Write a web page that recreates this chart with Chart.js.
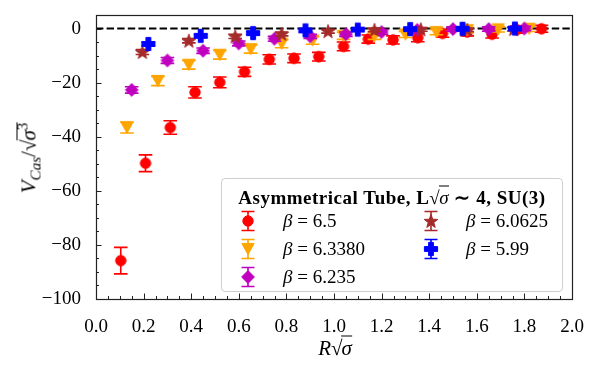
<!DOCTYPE html>
<html>
<head>
<meta charset="utf-8">
<script src="https://cdn.jsdelivr.net/npm/chart.js@4.4.1/dist/chart.umd.min.js"></script>
<style>
  html, body { margin: 0; padding: 0; background: #fff; }
  #wrap { position: relative; width: 600px; height: 370px; font-family: "Liberation Serif", serif; color: #000; }
  canvas { position: absolute; left: 0; top: 0; }
  .ol { display: inline-block; border-top: 1.3px solid #000; line-height: 1; padding-top: 1px; margin-left: -1px; }
  .abs { position: absolute; white-space: nowrap; line-height: 1; }
  #ytitle { left: 28px; top: 158px; transform: translate(-50%, -50%) rotate(-90deg); font-size: 21px; }
  #xtitle { left: 335px; top: 347px; transform: translate(-50%, -50%); font-size: 21px; }
  #legend { position: absolute; left: 221px; top: 178px; width: 342px; height: 114px; box-sizing: border-box;
            border: 1px solid #cfcfcf; border-radius: 4px; background: rgba(255,255,255,0.85); }
  #legend .ttl { position: absolute; left: 0; width: 100%; top: 17px; transform: translateY(-50%); text-align: center; font-weight: bold; font-size: 19px; letter-spacing: 0.5px; line-height: 1; white-space: nowrap; }
  #legend .ttl .ol { border-top-width: 1px; }
  #legend .txt { position: absolute; transform: translateY(-50%); font-size: 19px; white-space: nowrap; }
  #legend .ico { position: absolute; transform: translate(-50%, -50%); }
  sub, sup { font-size: 72%; line-height: 0; }
</style>
</head>
<body>
<div id="wrap">
  <canvas id="c" width="600" height="370"></canvas>
  <div id="ytitle" class="abs"><i>V</i><sub><i>Cas</i></sub>/√<span class="ol"><i>σ</i><sup>3</sup></span></div>
  <div id="xtitle" class="abs"><i>R</i>√<span class="ol"><i>σ</i></span></div>
  <div id="legend"></div>
</div>
<script>
// ---------------- data ----------------
const xTicks = [0, 0.2, 0.4, 0.6, 0.8, 1.0, 1.2, 1.4, 1.6, 1.8, 2.0];
const xTickLabels = ["0.0", "0.2", "0.4", "0.6", "0.8", "1.0", "1.2", "1.4", "1.6", "1.8", "2.0"];
const yTicks = [-100, -80, -60, -40, -20, 0];
const yTickLabels = ["\u2212100", "\u221280", "\u221260", "\u221240", "\u221220", "0"];

const legendTitle = 'Asymmetrical Tube, L√<span class="ol" style="font-weight:normal"><i>σ</i></span> ∼ 4, SU(3)';
const seriesNames = ["β = 6.5", "β = 6.3380", "β = 6.235", "β = 6.0625", "β = 5.99"];

// beta = 6.5
const r65 = [0.104, 0.208, 0.312, 0.416, 0.520, 0.624, 0.728, 0.832, 0.936, 1.040, 1.144, 1.248, 1.352, 1.456, 1.560, 1.664, 1.768, 1.872];
const v65 = [-85.8, -49.8, -36.6, -23.6, -19.9, -16.0, -11.4, -11.0, -10.4, -6.6, -3.9, -4.2, -3.4, -1.8, -1.3, -2.1, -0.4, -0.1];
const e65 = [4.9, 3.1, 2.5, 2.1, 2.0, 1.7, 1.7, 1.6, 1.6, 1.6, 1.5, 1.5, 1.5, 1.4, 1.4, 1.4, 1.3, 1.3];

// beta = 6.3380
const r6338 = [0.13, 0.26, 0.39, 0.52, 0.65, 0.78, 0.91, 1.04, 1.17, 1.30, 1.43, 1.56, 1.69, 1.82];
const v6338 = [-36.6, -19.4, -13.4, -9.7, -7.6, -5.6, -4.4, -2.7, -2.8, -2.2, -1.3, -0.6, -0.3, -0.1];
const e6338 = [2.0, 1.7, 1.6, 1.6, 1.5, 1.5, 1.4, 1.3, 1.2, 1.1, 1.0, 1.0, 1.0, 1.0];

// beta = 6.235
const r6235 = [0.15, 0.30, 0.45, 0.60, 0.75, 0.90, 1.05, 1.20, 1.35, 1.50, 1.65, 1.80];
const v6235 = [-22.7, -11.8, -8.2, -5.5, -3.8, -2.9, -2.1, -1.3, -0.5, -0.2, -0.2, 0.0];
const e6235 = [1.2, 1.1, 1.0, 0.9, 0.9, 0.8, 0.8, 0.8, 0.8, 0.8, 0.8, 0.8];

// beta = 6.0625
const r60625 = [0.195, 0.39, 0.585, 0.78, 0.975, 1.17, 1.365, 1.56, 1.755];
const v60625 = [-8.7, -4.5, -2.9, -2.0, -1.0, -0.5, -0.3, -0.5, -0.2];
const e60625 = [0.9, 0.8, 0.8, 0.7, 0.7, 0.7, 0.7, 0.7, 0.7];

// beta = 5.99
const r599 = [0.22, 0.44, 0.66, 0.88, 1.10, 1.32, 1.54, 1.76];
const v599 = [-5.7, -2.7, -1.7, -0.7, -0.4, -0.2, -0.1, 0.0];
const e599 = [0.7, 0.6, 0.6, 0.6, 0.5, 0.5, 0.5, 0.5];

// ---------------- styling ----------------
const colors = ["#ff0000", "#ffa500", "#bf00bf", "#a52a2a", "#0000ff"];
const shapes = ["circle", "triDown", "diamond", "star", "plusFilled"];

function drawShape(ctx, kind, cx, cy, color) {
  ctx.save();
  ctx.fillStyle = color;
  ctx.strokeStyle = color;
  ctx.lineWidth = 1;
  ctx.lineJoin = "miter";
  ctx.beginPath();
  if (kind === "circle") {
    ctx.arc(cx, cy, 5.2, 0, Math.PI * 2);
  } else if (kind === "triDown") {
    ctx.moveTo(cx - 6.2, cy - 5.6);
    ctx.lineTo(cx + 6.2, cy - 5.6);
    ctx.lineTo(cx, cy + 5.6);
    ctx.closePath();
  } else if (kind === "diamond") {
    const d = 6.4;
    ctx.moveTo(cx, cy - d); ctx.lineTo(cx + d, cy); ctx.lineTo(cx, cy + d); ctx.lineTo(cx - d, cy);
    ctx.closePath();
  } else if (kind === "star") {
    const ro = 7.2, ri = 2.9;
    for (let i = 0; i < 10; i++) {
      const r = i % 2 === 0 ? ro : ri;
      const a = -Math.PI / 2 + i * Math.PI / 5;
      const px = cx + r * Math.cos(a), py = cy + 0.6 + r * Math.sin(a);
      if (i === 0) ctx.moveTo(px, py); else ctx.lineTo(px, py);
    }
    ctx.closePath();
  } else if (kind === "plusFilled") {
    const L = 6.6, T = 2.4;
    ctx.moveTo(cx - T, cy - L); ctx.lineTo(cx + T, cy - L); ctx.lineTo(cx + T, cy - T);
    ctx.lineTo(cx + L, cy - T); ctx.lineTo(cx + L, cy + T); ctx.lineTo(cx + T, cy + T);
    ctx.lineTo(cx + T, cy + L); ctx.lineTo(cx - T, cy + L); ctx.lineTo(cx - T, cy + T);
    ctx.lineTo(cx - L, cy + T); ctx.lineTo(cx - L, cy - T); ctx.lineTo(cx - T, cy - T);
    ctx.closePath();
  }
  ctx.fill();
  ctx.stroke();
  ctx.restore();
}

function makeMarker(kind, color) {
  const c = document.createElement("canvas");
  c.width = 18; c.height = 18;
  drawShape(c.getContext("2d"), kind, 9, 9, color);
  return c;
}

function makeLegendIcon(kind, color) {
  const c = document.createElement("canvas");
  c.width = 18; c.height = 24;
  const g = c.getContext("2d");
  g.strokeStyle = color; g.lineWidth = 1.6;
  g.beginPath();
  g.moveTo(9, 2.5); g.lineTo(9, 21.5);
  g.moveTo(2.5, 2.5); g.lineTo(15.5, 2.5);
  g.moveTo(2.5, 21.5); g.lineTo(15.5, 21.5);
  g.stroke();
  drawShape(g, kind, 9, 12, color);
  return c;
}

const xs = [r65, r6338, r6235, r60625, r599];
const ys = [v65, v6338, v6235, v60625, v599];
const es = [e65, e6338, e6235, e60625, e599];

const datasets = xs.map((xa, k) => ({
  label: seriesNames[k],
  data: xa.map((x, i) => ({ x: x, y: ys[k][i] })),
  errors: es[k],
  color: colors[k],
  pointStyle: makeMarker(shapes[k], colors[k]),
  showLine: false,
  order: 4 - k
}));

// error bars, drawn just beneath each dataset's markers
const errorBarPlugin = {
  id: "errbars",
  beforeDatasetDraw(chart, args) {
    const ds = chart.data.datasets[args.index];
    const meta = args.meta;
    const ys = chart.scales.y;
    const ctx = chart.ctx;
    ctx.save();
    ctx.strokeStyle = ds.color;
    ctx.lineWidth = 1.6;
    ctx.beginPath();
    meta.data.forEach((pt, i) => {
      const v = ds.data[i].y, e = ds.errors[i];
      const yt = ys.getPixelForValue(v + e), yb = ys.getPixelForValue(v - e);
      ctx.moveTo(pt.x, yt); ctx.lineTo(pt.x, yb);
      ctx.moveTo(pt.x - 6.8, yt); ctx.lineTo(pt.x + 6.8, yt);
      ctx.moveTo(pt.x - 6.8, yb); ctx.lineTo(pt.x + 6.8, yb);
    });
    ctx.stroke();
    ctx.restore();
  }
};

// dashed zero line, frame and inward ticks
const framePlugin = {
  id: "frame",
  beforeDatasetsDraw(chart) {
    const { ctx, chartArea: a, scales } = chart;
    const y0 = scales.y.getPixelForValue(0);
    ctx.save();
    ctx.strokeStyle = "#000";
    ctx.lineWidth = 2;
    ctx.setLineDash([7.4, 3.2]);
    ctx.beginPath();
    ctx.moveTo(a.left, y0); ctx.lineTo(a.right, y0);
    ctx.stroke();
    ctx.restore();
  },
  afterDraw(chart) {
    const { ctx, chartArea: a, scales } = chart;
    ctx.save();
    ctx.strokeStyle = "#222";
    ctx.lineWidth = 1;
    ctx.beginPath();
    for (let v = 0; v <= 2.0001; v += 0.05) {
      const px = Math.round(scales.x.getPixelForValue(v)) + 0.5;
      const major = Math.abs(v / 0.2 - Math.round(v / 0.2)) < 1e-6;
      const len = major ? 5.5 : 3;
      ctx.moveTo(px, a.bottom); ctx.lineTo(px, a.bottom - len);
    }
    for (let v = -100; v <= 5; v += 5) {
      const py = Math.round(scales.y.getPixelForValue(v)) + 0.5;
      const major = v % 20 === 0;
      const len = major ? 5.5 : 3;
      ctx.moveTo(a.left, py); ctx.lineTo(a.left + len, py);
    }
    ctx.stroke();
    ctx.lineWidth = 1.2;
    ctx.strokeStyle = "#222";
    ctx.strokeRect(Math.round(a.left) + 0.5, Math.round(a.top) + 0.5, Math.round(a.right - a.left), Math.round(a.bottom - a.top));
    ctx.restore();
  }
};

Chart.defaults.font.family = "'Liberation Serif', serif";
Chart.defaults.font.size = 19;
Chart.defaults.color = "#000";

const chart = new Chart(document.getElementById("c"), {
  type: "scatter",
  data: { datasets },
  options: {
    responsive: false,
    animation: false,
    events: [],
    layout: { padding: { top: 15, right: 28, left: 0, bottom: 0 } },
    plugins: { legend: { display: false }, tooltip: { enabled: false } },
    scales: {
      x: {
        type: "linear", min: 0, max: 2,
        grid: { display: false },
        border: { display: false },
        ticks: { padding: 9, maxRotation: 0, callback: (v, i) => xTickLabels[i] },
        afterBuildTicks: s => { s.ticks = xTicks.map(v => ({ value: v })); },
        afterFit: s => { s.height = 71; s.paddingLeft = 0; s.paddingRight = 0; }
      },
      y: {
        type: "linear", min: -100, max: 5,
        grid: { display: false },
        border: { display: false },
        ticks: { padding: 7, callback: (v, i) => yTickLabels[i] },
        afterBuildTicks: s => { s.ticks = yTicks.map(v => ({ value: v })); },
        afterFit: s => { s.width = 96; s.paddingTop = 0; s.paddingBottom = 0; }
      }
    }
  },
  plugins: [framePlugin, errorBarPlugin]
});

// ---------------- legend (HTML) ----------------
const lg = document.getElementById("legend");
const t = document.createElement("div");
t.className = "ttl";
t.innerHTML = legendTitle;
lg.appendChild(t);
const slots = [[26, 42], [26, 70], [26, 98], [209, 42], [209, 70]];
seriesNames.forEach((name, k) => {
  const [cx, cy] = slots[k];
  const ic = makeLegendIcon(shapes[k], colors[k]);
  ic.className = "ico";
  ic.style.left = cx + "px"; ic.style.top = cy + "px";
  lg.appendChild(ic);
  const tx = document.createElement("div");
  tx.className = "txt";
  tx.style.left = (cx + 35) + "px"; tx.style.top = cy + "px";
  tx.innerHTML = "<i>β</i> = " + name.split("= ")[1];
  lg.appendChild(tx);
});
</script>
</body>
</html>
